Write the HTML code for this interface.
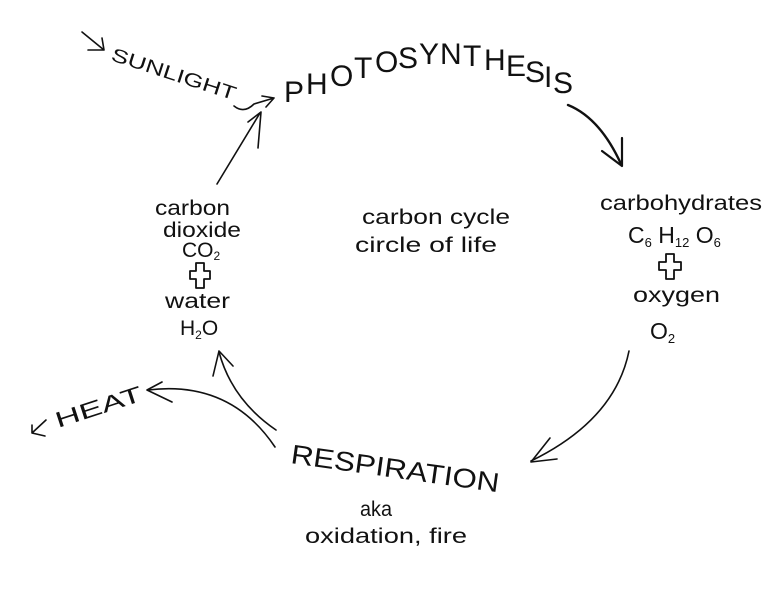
<!DOCTYPE html>
<html><head><meta charset="utf-8"><style>
html,body{margin:0;padding:0;background:#fff;overflow:hidden;}
svg{display:block}
text{font-family:"Liberation Sans",sans-serif;fill:#111;}
</style></head><body>
<svg width="781" height="604" viewBox="0 0 781 604" xmlns="http://www.w3.org/2000/svg">
<g fill="none" stroke="#111" stroke-width="1.6" stroke-linecap="round" stroke-linejoin="round">
<path d="M82 32 L104 50 M88 50 L104 50 L102 38"/>
<path d="M234 106 Q244 114 254 104 L274 98 M262 96 L274 98 L266 107"/>
<path d="M217 184 L260 113"/>
<path d="M248 122 L261 112 L258 148"/>
<path d="M568 105 Q600 118 621 164" stroke-width="2.4"/>
<path d="M602 151 L622 166 L622 138" stroke-width="2.2"/>
<path d="M629 351 Q615 420 531 461"/>
<path d="M550 438 L531 462 L557 459"/>
<path d="M276 430 Q232 400 219 352"/>
<path d="M213 376 L219 351 L233 366"/>
<path d="M275 447 Q230 380 148 390"/>
<path d="M172 402 L147 390 L162 382"/>
<path d="M46 420 L32 433 M32 425 L32 433 L45 436"/>
<path d="M190 271 h6 v-8 h8 v8 h6 v8 h-6 v9 h-8 v-9 h-6 z" stroke-width="1.8"/>
<path d="M659 262 h7 v-8 h8 v8 h7 v8 h-7 v9 h-8 v-9 h-7 z" stroke-width="1.8"/>
</g>
<text x="110" y="60" font-size="19" transform="rotate(18 110 60)" textLength="130" lengthAdjust="spacingAndGlyphs">SUNLIGHT</text>
<text font-size="30">
<tspan x="284" y="102">P</tspan><tspan x="306" y="94">H</tspan><tspan x="330" y="86">O</tspan><tspan x="354" y="78">T</tspan><tspan x="375" y="72">O</tspan><tspan x="398" y="68">S</tspan><tspan x="419" y="64">Y</tspan><tspan x="440" y="64">N</tspan><tspan x="463" y="66">T</tspan><tspan x="484" y="70">H</tspan><tspan x="506" y="76">E</tspan><tspan x="525" y="82">S</tspan><tspan x="544" y="87">I</tspan><tspan x="553" y="93">S</tspan>
</text>
<text x="290" y="463" font-size="27" transform="rotate(8 290 463)" textLength="210" lengthAdjust="spacingAndGlyphs">RESPIRATION</text>
<text x="58" y="428" font-size="22" transform="rotate(-18 58 428)" textLength="90" lengthAdjust="spacingAndGlyphs">HEAT</text>
<g font-size="21">
<text x="155" y="215" textLength="75" lengthAdjust="spacingAndGlyphs">carbon</text>
<text x="163" y="237" textLength="78" lengthAdjust="spacingAndGlyphs">dioxide</text>
<text x="182" y="257">CO<tspan font-size="12" dy="3">2</tspan></text>
<text x="165" y="308" textLength="65" lengthAdjust="spacingAndGlyphs">water</text>
<text x="180" y="335">H<tspan font-size="12" dy="4">2</tspan><tspan dy="-4">O</tspan></text>
<text x="362" y="224" textLength="148" lengthAdjust="spacingAndGlyphs">carbon cycle</text>
<text x="355" y="252" textLength="142" lengthAdjust="spacingAndGlyphs">circle of life</text>
<text x="600" y="210" textLength="162" lengthAdjust="spacingAndGlyphs">carbohydrates</text>
<text x="628" y="243" font-size="23">C<tspan font-size="13" dy="4">6</tspan><tspan dy="-4"> H</tspan><tspan font-size="13" dy="4">12</tspan><tspan dy="-4"> O</tspan><tspan font-size="13" dy="4">6</tspan></text>
<text x="633" y="302" textLength="87" lengthAdjust="spacingAndGlyphs">oxygen</text>
<text x="650" y="339" font-size="23">O<tspan font-size="13" dy="4">2</tspan></text>
<text x="360" y="516" textLength="32" lengthAdjust="spacingAndGlyphs">aka</text>
<text x="305" y="543" textLength="162" lengthAdjust="spacingAndGlyphs">oxidation, fire</text>
</g>
</svg>
</body></html>
